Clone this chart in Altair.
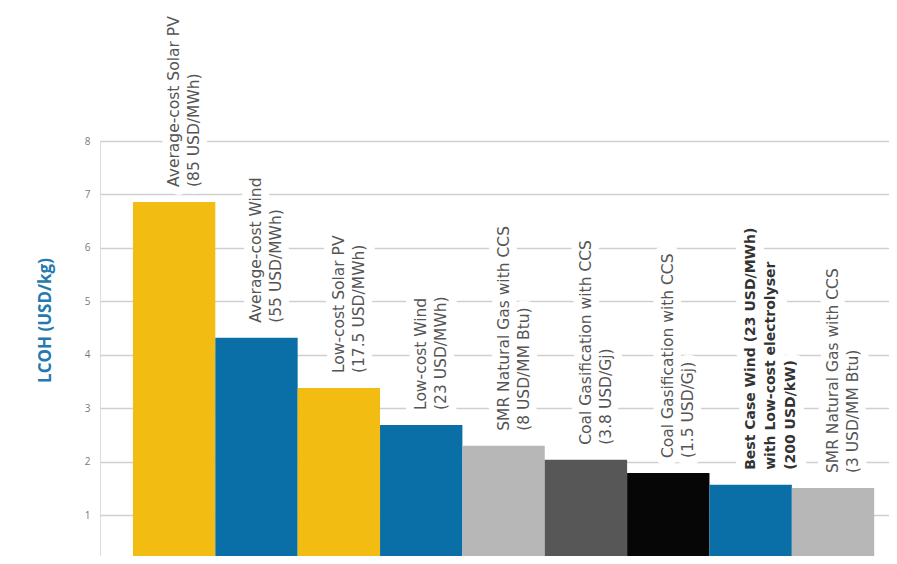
import altair as alt
import pandas as pd

# ---- data ----
ids = ["c1", "c2", "c3", "c4", "c5", "c6", "c7", "c8", "c9"]
labels = [
    "Average-cost Solar PV\n(85 USD/MWh)",
    "Average-cost Wind\n(55 USD/MWh)",
    "Low-cost Solar PV\n(17.5 USD/MWh)",
    "Low-cost Wind\n(23 USD/MWh)",
    "SMR Natural Gas with CCS\n(8 USD/MM Btu)",
    "Coal Gasification with CCS\n(3.8 USD/Gj)",
    "Coal Gasification with CCS\n(1.5 USD/Gj)",
    "Best Case Wind (23 USD/MWh)\nwith Low-cost electrolyser\n(200 USD/kW)",
    "SMR Natural Gas with CCS\n(3 USD/MM Btu)",
]
lcoh = [6.86, 4.32, 3.38, 2.69, 2.30, 2.04, 1.79, 1.57, 1.51]
bar_colors = ["#F2BC13", "#0B6FA7", "#F2BC13", "#0B6FA7", "#B7B7B7",
              "#575757", "#060606", "#0B6FA7", "#B7B7B7"]
bold = [False, False, False, False, False, False, False, True, False]
y_ticks = [1, 2, 3, 4, 5, 6, 7, 8]

df = pd.DataFrame({"id": ids, "label": labels, "lcoh": lcoh, "bold": bold})

x_enc = alt.X("id:N", sort=ids, axis=None,
              scale=alt.Scale(paddingInner=0, paddingOuter=0.29, align=0.69))
y_scale = alt.Scale(domain=[0.24, 8], nice=False, zero=False)

base = alt.Chart(df)

bars = base.mark_bar(clip=True).encode(
    x=x_enc,
    y=alt.Y("lcoh:Q", scale=y_scale,
            axis=alt.Axis(values=y_ticks, format="d", title="LCOH (USD/kg)",
                          grid=True, gridColor="#cfcfcf", gridWidth=1.5,
                          domain=False, ticks=False, labelColor="#7a7a7a",
                          labelFontSize=10, labelFont="Open Sans",
                          labelPadding=10,
                          titleFont="Open Sans", titleFontSize=17,
                          titleFontWeight="bold", titleColor="#2679B0",
                          titleAngle=270, titleX=-55, titleY=179,
                          titleAlign="center", titleBaseline="middle")),
    color=alt.Color("id:N", sort=ids, legend=None,
                    scale=alt.Scale(domain=ids, range=bar_colors)),
)

text_common = dict(angle=270, align="left", baseline="middle", dx=15,
                   lineBreak="\n", lineHeight=20, font="DejaVu Sans")

halo = base.mark_text(color="white", stroke="white", strokeWidth=16,
                      strokeJoin="round", fontSize=15.5, **text_common).encode(
    x=x_enc, y=alt.Y("lcoh:Q", scale=y_scale), text="label:N")

txt_reg = base.transform_filter("!datum.bold").mark_text(
    color="#555555", fontSize=15.5, **text_common).encode(
    x=x_enc, y=alt.Y("lcoh:Q", scale=y_scale), text="label:N")

txt_bold = base.transform_filter("datum.bold").mark_text(
    color="#333333", fontWeight="bold", fontSize=14, **text_common).encode(
    x=x_enc, y=alt.Y("lcoh:Q", scale=y_scale), text="label:N")

chart = alt.layer(bars, halo, txt_reg, txt_bold).properties(
    width=789, height=415,
    autosize=alt.AutoSizeParams(type="none"),
    padding={"left": 92, "top": 133, "right": 0, "bottom": 0},
).configure_view(stroke=None).configure(background="white")

chart.save("out.html", embed_options={"renderer": "svg", "actions": False})
